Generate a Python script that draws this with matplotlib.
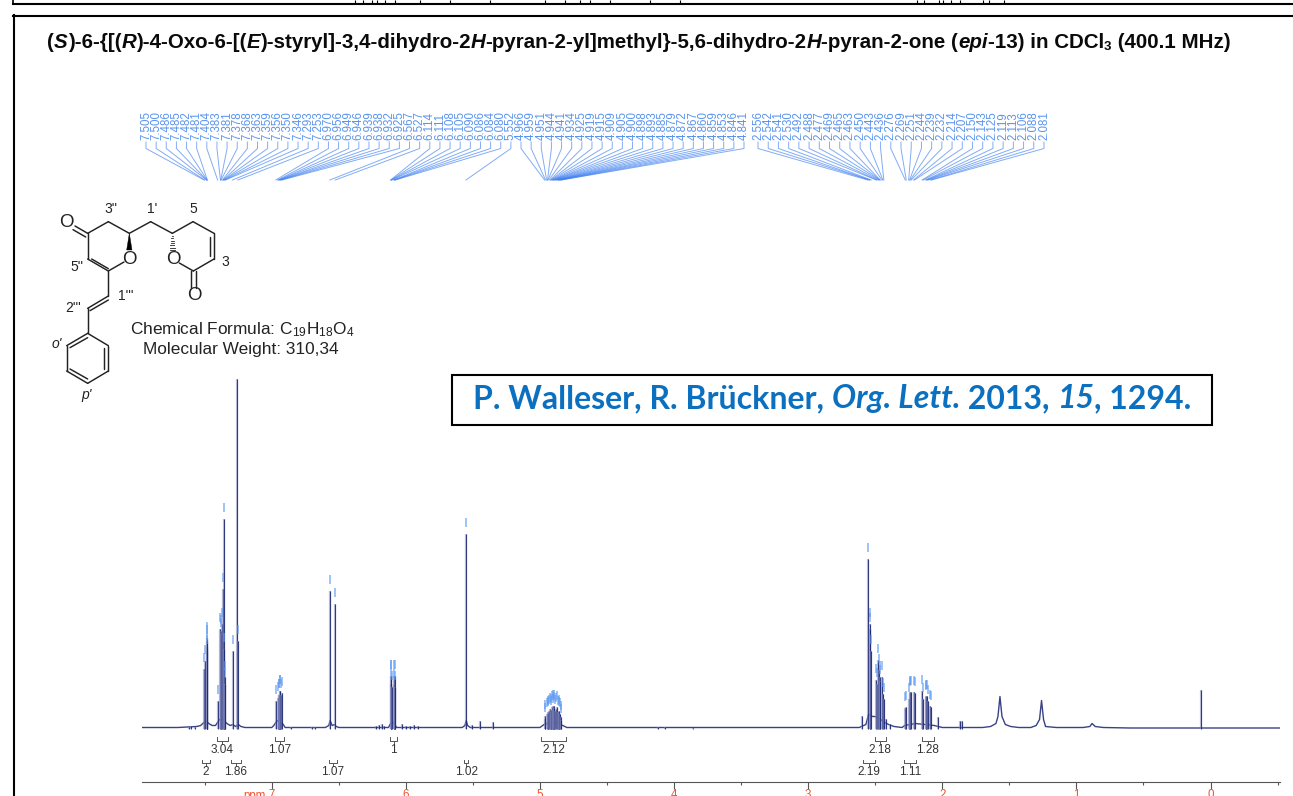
import matplotlib
matplotlib.use("Agg")
import matplotlib.pyplot as plt
from matplotlib.patches import Polygon, Rectangle

plt.rcParams['font.family'] = ['Liberation Sans', 'DejaVu Sans']
plt.rcParams['mathtext.fontset'] = 'custom'
plt.rcParams['mathtext.rm'] = 'Liberation Sans'
plt.rcParams['mathtext.it'] = 'Liberation Sans:italic'
plt.rcParams['mathtext.bf'] = 'Liberation Sans:bold'

# ---------- data ----------
peak_labels_a = ["7.505","7.500","7.486","7.485","7.482","7.481","7.404","7.383","7.381","7.378",
                 "7.368","7.363","7.359","7.356","7.350","7.346","7.293","7.253","6.970","6.956",
                 "6.949","6.946","6.939","6.938","6.932","6.925","6.567","6.527","6.114","6.111",
                 "6.108","6.105","6.090","6.086","6.084","6.080","5.552"]
peak_heights_a = [60,68,78,82,88,91,28,100,98,95,105,140,210,80,52,45,78,88,28,31,
                  34,34,38,38,34,36,138,125,45,53,53,42,44,53,53,42,195]
peak_labels_b = ["4.966","4.959","4.951","4.944","4.941","4.934","4.925","4.919","4.915","4.909",
                 "4.905","4.900","4.898","4.893","4.885","4.879","4.872","4.867","4.860","4.859",
                 "4.853","4.846","4.841"]
peak_heights_b = [10,13,15,17,16,18,20,17,19,22,23,19,23,21,18,20,22,17,18,16,15,12,9]
peak_labels_c = ["2.556","2.542","2.541","2.530","2.492","2.488","2.477","2.469","2.465","2.463",
                 "2.450","2.443","2.436","2.276","2.269","2.251","2.244","2.239","2.232","2.214",
                 "2.207","2.150","2.143","2.125","2.119","2.113","2.106","2.088","2.081"]
peak_heights_c = [170,105,100,78,49,45,69,59,52,48,52,35,30,21,22,30,36,37,37,37,
                  36,38,30,32,33,33,28,23,22]
extra_ppm = [7.262,7.62,7.60,7.57,6.86,6.70,6.68,6.22,6.20,6.18,6.16,6.03,6.00,5.97,5.94,5.91,5.505,5.447,5.35,
             4.12,4.07,3.86,2.60,2.42,2.39,2.03,1.87,1.85,0.07]
extra_h = [350,2,3,2,2,1.5,1.5,3,4,5,3,5,3,3,4,3,4,8,7,2,1.5,1,13,10,5,12,8,8,39]
# residual line shape: (ppm, height above baseline)
trace_ppm = [7.968,7.70,7.56,7.53,7.515,7.49,7.47,7.445,7.42,7.39,7.36,7.335,7.31,7.29,7.27,7.25,7.23,7.20,7.0,6.985,
             6.96,6.92,6.90,6.60,6.575,6.565,6.55,6.53,6.52,6.50,6.13,6.11,6.09,6.07,5.58,5.56,5.55,5.54,5.52,
             5.0,4.97,4.90,4.83,4.80,2.62,2.57,2.55,2.52,2.50,2.46,2.43,2.40,2.36,2.30,2.28,2.2,2.06,2.0,1.70,
             1.64,1.60,1.585,1.57,1.555,1.53,1.49,1.43,1.34,1.30,1.275,1.26,1.245,1.23,1.15,0.95,0.90,0.883,0.86,0.80,0.60,-0.518]
trace_h = [1,1,2,3,5,8,5,3,3,9,9,5,3,4,2,4,2,1,1,3,
           8,5,1,1,3,8,3,4,2,1,1,6,6,1,1,3,8,3,1,
           1,4,7,3,1,1,4,14,12,12,9,6,4,2,1,3,5,3,1,1,
           2,5,12,32,12,4,2,1,1,3,9,28,9,2,1,1,2,5,2,1,0.5,0.5]
integral_row1 = [("3.04",7.409,7.329),("1.07",6.976,6.909),("1",6.118,6.064),("2.12",4.993,4.807),
                 ("2.18",2.502,2.422),("1.28",2.154,2.064)]
integral_row2 = [("2",7.518,7.463),("1.86",7.302,7.232),("1.07",6.576,6.512),("1.02",5.567,5.535),
                 ("2.19",2.594,2.504),("1.11",2.286,2.194)]
major_ticks = [0,1,2,3,4,5,6,7]
minor_ticks = [-0.5,0.5,1.5,2.5,3.5,4.5,5.5,6.5,7.5]
top_fragments = [355,363,372,377,385,395,420,450,490,545,565,580,590,610,650,680,917,924,939,943,951,960,983,989,1004]

# ---------- page geometry ----------
W, H = 1293, 796
PPM0, PXPPM = 1210.5, 134.1
BASE, AXISY, TOPY, LPX, RPX = 728.5, 781.7, 370, 142, 1280
NAVY, BLUE, RED = '#16226f', '#5f9bf2', '#f0522f'
px2ppm = lambda x: (PPM0 - x) / PXPPM
py = lambda y: BASE - y

fig = plt.figure(figsize=(W/100, H/100), dpi=100, facecolor='white')
page = fig.add_axes([0, 0, 1, 1], zorder=1)
page.set_xlim(0, W); page.set_ylim(H, 0); page.axis('off')
ax = fig.add_axes([LPX/W, (H-AXISY)/H, (RPX-LPX)/W, (AXISY-TOPY)/H], zorder=2)
ax.patch.set_alpha(0)
ax.set_xlim(px2ppm(LPX), px2ppm(RPX))
ax.set_ylim(py(AXISY), py(TOPY))

def sticks(p, h):
    ax.vlines(p, 0, h, color='#8a90c0', lw=1.6, alpha=0.55, zorder=3)
    ax.vlines(p, 0, h, color=NAVY, lw=0.8, alpha=0.85, zorder=3)

# ---------- spectrum ----------
ax.plot(trace_ppm, trace_h, color=NAVY, lw=1.0, alpha=0.85, zorder=3)
sticks(extra_ppm, extra_h)
labels = peak_labels_a + peak_labels_b
heights = peak_heights_a + peak_heights_b
n = len(labels)
for i, (lab, h) in enumerate(zip(labels + peak_labels_c, heights + peak_heights_c)):
    if i < n:
        lx = 146 + i * (744 - 146) / (n - 1)
    else:
        lx = 758 + (i - n) * (1044 - 758) / (len(peak_labels_c) - 1)
    p = float(lab)
    sticks(p, h)
    ax.vlines(p, h + 7, h + 16, color=BLUE, lw=1.2, alpha=0.7, zorder=4)
    ax.plot([px2ppm(lx), px2ppm(lx), p], [py(142), py(148.5), py(180)], color='#3f80f0', lw=0.7, alpha=0.65,
            clip_on=False, zorder=2)
    ax.text(px2ppm(lx), py(139.5), lab, rotation=90, ha='center', va='bottom', fontsize=8.3,
            color='#5a94ee', clip_on=False)

# ---------- integrals ----------
for row, (y0, y1, y2, yt) in ((integral_row1, (737, 740.5, 743.5, 750)), (integral_row2, (759.5, 763, 766, 772))):
    for lab, a, b in row:
        m = (a + b) / 2
        ax.plot([a, a, b, b], [py(y0), py(y1), py(y1), py(y0)], color='#555555', lw=0.7, clip_on=False)
        ax.plot([m, m], [py(y1), py(y2)], color='#555555', lw=0.7, clip_on=False)
        ax.text(m, py(yt), lab, ha='center', va='center', fontsize=8.5, color='#333333')

# ---------- ppm axis ----------
for s in ('top', 'left', 'right'):
    ax.spines[s].set_visible(False)
ax.spines['bottom'].set_color('#555555')
ax.spines['bottom'].set_linewidth(0.8)
ax.set_yticks([])
ax.set_xticks(major_ticks)
ax.set_xticklabels([str(t) for t in major_ticks], fontsize=8.3, color=RED)
ax.set_xticks(minor_ticks, minor=True)
ax.tick_params(axis='x', which='major', length=5, width=0.8, color='#555555', pad=0.6)
ax.tick_params(axis='x', which='minor', length=2, width=0.8, color='#555555')
page.text(266, 790, "ppm", ha='right', va='top', fontsize=8.3, color=RED)

# ---------- page frame ----------
page.plot([13, W], [4, 4], color='black', lw=1.5)
page.plot([13, 13], [0, 4], color='black', lw=1.2)
page.plot([13, W], [15.5, 15.5], color='black', lw=1.5)
page.plot([13.5, 13.5], [15, H], color='black', lw=1.5)
page.vlines(top_fragments, 0, 3, color='black', lw=0.8)

# ---------- mixed-style text ----------
rend = fig.canvas.get_renderer()
def width(s, **kw):
    a = page.text(0, 0, s + "|", **kw); b = page.text(0, 0, "|", **kw)
    w = a.get_window_extent(rend).width - b.get_window_extent(rend).width
    a.remove(); b.remove()
    return w
def rich(x, y, parts, **kw):
    for s, style in parts:
        k = dict(kw); k['style'] = style
        page.text(x, y, s, ha='left', va='baseline', **k)
        x += width(s, **k)
    return x

n, i = 'normal', 'italic'
title = [("(",n),("S",i),(")-6-{[(",n),("R",i),(")-4-Oxo-6-[(",n),("E",i),(")-styryl]-3,4-dihydro-2",n),("H",i),
         ("-pyran-2-yl]methyl}-5,6-dihydro-2",n),("H",i),("-pyran-2-one (",n),("epi",i),("-13) in CDCl",n)]
tk = dict(fontsize=14.75, weight='bold', color='#0a0a0a')
xe = rich(47.5, 48, title, **tk)
page.text(xe, 50.5, "3", fontsize=9.5, weight='bold', color='#0a0a0a', ha='left', va='baseline')
xe += width("3", fontsize=9.5, weight='bold')
rich(xe, 48, [(" (400.1 MHz)", n)], **tk)

page.add_patch(Rectangle((452, 375), 760, 50, fc='white', ec='black', lw=1.5, zorder=3))
cit = [("P. Walleser, R. Brückner, ",n),("Org. Lett.",i),(" 2013, ",n),("15",i),(", 1294.",n)]
rich(473, 408, cit, fontsize=23, weight='bold', color='#0a70bf', family='Lato', zorder=4)

# ---------- structure (page pixels) ----------
S = lambda x, y: (40 + x / 3, 190 + y / 3)
bonds = [((143,130),(205,95)),((205,95),(268,130)),((143,130),(143,207)),((143,207),(205,243)),((205,243),(252,216)),
         ((268,130),(332,95)),((332,95),(397,130)),((397,130),(459,95)),((459,95),(522,130)),((522,130),(522,207)),
         ((522,207),(460,243)),((460,243),(418,219)),((205,243),(205,318)),((205,318),(143,355)),((143,355),(143,430)),
         ((143,430),(205,467)),((205,467),(205,543)),((205,543),(143,580)),((143,580),(80,543)),((80,543),(80,467)),((80,467),(143,430)),
         ((143,130),(105,108)),((137,141),(99,119)),((155,207),(205,236)),((510,140),(510,198)),
         ((453,243),(453,295)),((467,243),(467,295)),((205,330),(150,362)),
         ((193,473),(193,537)),((143,567),(90,537)),((90,473),(143,443))]
for a, b in bonds:
    (x0, y0), (x1, y1) = S(*a), S(*b)
    page.plot([x0, x1], [y0, y1], color='#222222', lw=1.05, solid_capstyle='round')
page.add_patch(Polygon([S(268,130), S(260,180), S(276,180)], fc='black', ec='black', lw=0.3))
for k, hw in enumerate([2, 3, 4, 5, 6, 7, 8]):
    v = 138 + k * 7
    (x0, y0), (x1, _) = S(397 - hw, v), S(397 + hw, v)
    page.plot([x0, x1], [y0, y0], color='#222222', lw=0.6)
atoms = [("O",(80,97)),("O",(268,207)),("O",(400,207)),("O",(462,318))]
for t, c in atoms:
    x, y = S(*c)
    page.text(x, y, t, ha='center', va='center', fontsize=13.5, color='#222222')
locants = [("3''",(212,58),n),("1'",(335,58),n),("5",(460,58),n),("3",(555,217),n),("5''",(110,232),n),
           ("1'''",(258,318),n),("2'''",(100,353),n),("o'",(50,462),i),("p'",(140,615),i)]
for t, c, st in locants:
    x, y = S(*c)
    page.text(x, y, t, ha='center', va='center', fontsize=10, style=st, color='#222222')
page.text(241.7, 330, r"Chemical Formula: C$_{19}$H$_{18}$O$_{4}$", ha='center', va='center', fontsize=12.4, color='#222222')
page.text(241, 349.5, "Molecular Weight: 310,34", ha='center', va='center', fontsize=12.4, color='#222222')

fig.savefig("out.png", dpi=100, facecolor='white')
